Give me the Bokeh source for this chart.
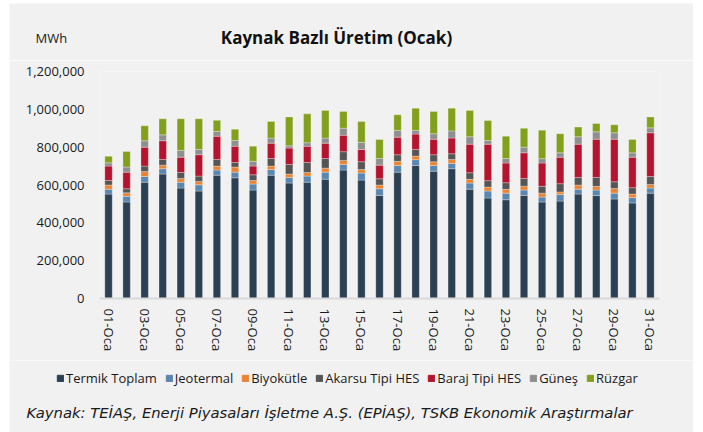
from bokeh.plotting import figure
from bokeh.layouts import column
from bokeh.models import (ColumnDataSource, Range1d, FixedTicker, NumeralTickFormatter, Label,
                          Legend, LegendItem, Plot)
from bokeh.embed import file_html
from bokeh.resources import INLINE

days = ["01-Oca", "02-Oca", "03-Oca", "04-Oca", "05-Oca", "06-Oca", "07-Oca", "08-Oca",
        "09-Oca", "10-Oca", "11-Oca", "12-Oca", "13-Oca", "14-Oca", "15-Oca", "16-Oca",
        "17-Oca", "18-Oca", "19-Oca", "20-Oca", "21-Oca", "22-Oca", "23-Oca", "24-Oca",
        "25-Oca", "26-Oca", "27-Oca", "28-Oca", "29-Oca", "30-Oca", "31-Oca"]

termik = [552000, 510000, 615000, 658000, 584000, 568000, 652000, 638000, 573000, 652000,
          610000, 615000, 631000, 679000, 626000, 545000, 668000, 703000, 673000, 686000,
          578000, 531000, 522000, 545000, 510000, 515000, 552000, 544000, 526000, 505000, 557000]
jeotermal = [26000, 30000, 30000, 28000, 31000, 33000, 27000, 30000, 32000, 30000,
             30000, 32000, 37000, 30000, 37000, 35000, 35000, 31000, 30000, 28000,
             32000, 37000, 35000, 28000, 26000, 35000, 26000, 29000, 31000, 28000, 27000]
biyokutle = [22000, 19000, 27000, 19000, 20000, 18000, 21000, 27000, 19000, 18000,
             18000, 19000, 21000, 21000, 19000, 20000, 22000, 19000, 20000, 21000,
             20000, 21000, 20000, 21000, 21000, 13000, 22000, 20000, 25000, 19000, 19000]
akarsu = [24000, 21000, 28000, 30000, 31000, 28000, 35000, 24000, 30000, 40000,
          51000, 53000, 51000, 46000, 41000, 33000, 35000, 35000, 37000, 30000,
          35000, 34000, 35000, 41000, 36000, 44000, 40000, 47000, 35000, 34000, 42000]
baraj = [76000, 88000, 100000, 99000, 81000, 113000, 123000, 86000, 46000, 81000,
         86000, 86000, 81000, 87000, 65000, 72000, 93000, 81000, 82000, 83000,
         151000, 193000, 104000, 135000, 123000, 140000, 176000, 202000, 225000, 161000, 231000]
gunes = [17000, 27000, 34000, 31000, 36000, 28000, 25000, 30000, 25000, 27000,
         12000, 18000, 27000, 37000, 37000, 35000, 35000, 19000, 29000, 38000,
         39000, 19000, 24000, 30000, 23000, 23000, 39000, 39000, 34000, 23000, 26000]
ruzgar = [35000, 82000, 79000, 85000, 167000, 162000, 59000, 60000, 80000, 88000,
          153000, 153000, 146000, 88000, 111000, 101000, 83000, 118000, 117000, 120000,
          139000, 106000, 118000, 100000, 151000, 101000, 51000, 44000, 42000, 71000, 58000]

series_names = ["Termik Toplam", "Jeotermal", "Biyokütle", "Akarsu Tipi HES",
                "Baraj Tipi HES", "Güneş", "Rüzgar"]
series_keys = ["termik", "jeotermal", "biyokutle", "akarsu", "baraj", "gunes", "ruzgar"]
colors = ["#2c4053", "#5a86b0", "#ea8434", "#555555", "#b5142e", "#8f8f8f", "#83a01c"]
y_ticks = [0, 200000, 400000, 600000, 800000, 1000000, 1200000]

title_text = "Kaynak Bazlı Üretim (Ocak)"
unit_text = "MWh"
source_text = "Kaynak: TEİAŞ, Enerji Piyasaları İşletme A.Ş. (EPİAŞ), TSKB Ekonomik Araştırmalar"

x = [i + 1 for i in range(len(days))]
source = ColumnDataSource(dict(x=x, termik=termik, jeotermal=jeotermal, biyokutle=biyokutle,
                               akarsu=akarsu, baraj=baraj, gunes=gunes, ruzgar=ruzgar))

BG = "#f1f1f1"
FONT = "Open Sans"
TXT = "#1a1a1a"
W = 684

no_align = {"frame_align": False} if "frame_align" in Plot.properties() else {}


def panel(h, y0, y1):
    f = figure(width=W, height=h, output_backend="svg", toolbar_location=None,
               x_range=Range1d(9, 693), y_range=Range1d(y0, y1),
               x_axis_type=None, y_axis_type=None, min_border=0,
               background_fill_color=BG, border_fill_color=BG, outline_line_color=None,
               **no_align)
    f.xgrid.grid_line_color = None
    f.ygrid.grid_line_color = None
    return f


# ---- top panel: title and unit (data units = page pixels, y negative downward)
top = panel(57, -60, -3)
top.add_layout(Label(x=336, y=-37, text=title_text, text_font=FONT, text_font_style="bold",
                     text_font_size="17px", text_align="center", text_baseline="middle",
                     text_color="#111111"))
top.add_layout(Label(x=35, y=-37, text=unit_text, text_font=FONT, text_font_size="13px",
                     text_align="left", text_baseline="middle", text_color=TXT))

# ---- main chart
p = figure(width=W, height=300, output_backend="svg", toolbar_location=None,
           x_range=Range1d(0.5, len(days) + 0.5), y_range=Range1d(0, y_ticks[-1]),
           min_border_left=90, min_border_right=34, min_border_top=11, min_border_bottom=62,
           background_fill_color=BG, border_fill_color=BG, outline_line_color=None)

p.vbar_stack(series_keys, x="x", width=0.41, color=colors, source=source,
             line_color="white", line_alpha=0.35, line_width=0.8)

p.xgrid.grid_line_color = None
p.ygrid.grid_line_color = None

xa = p.xaxis[0]
xa.ticker = FixedTicker(ticks=x[::2])
xa.major_label_overrides = {x[i]: days[i] for i in range(0, len(days), 2)}
xa.major_label_orientation = "vertical"
xa.axis_line_color = "#d9d9d9"
xa.axis_line_width = 2
xa.major_tick_line_color = None
xa.minor_tick_line_color = None
xa.major_label_text_font = FONT
xa.major_label_text_font_size = "13px"
xa.major_label_text_color = TXT
xa.major_label_standoff = 4

ya = p.yaxis[0]
ya.ticker = FixedTicker(ticks=y_ticks)
ya.formatter = NumeralTickFormatter(format="0,0")
ya.axis_line_color = None
ya.major_tick_line_color = None
ya.minor_tick_line_color = None
ya.major_label_text_font = FONT
ya.major_label_text_font_size = "13px"
ya.major_label_text_color = TXT
ya.major_label_standoff = 9

# ---- bottom panel: legend and source note
bottom = panel(72, -432, -360)
items = []
for name, c in zip(series_names, colors):
    r = bottom.vbar(x=[-10000], top=[-10000], bottom=[-10001], width=1, color=c)
    items.append(LegendItem(label=name, renderers=[r]))
lg = Legend(items=items, orientation="horizontal", location=(47, 45),
            background_fill_alpha=0, border_line_color=None, padding=0, margin=0,
            spacing=8, glyph_width=8, glyph_height=8, label_standoff=2,
            label_text_font=FONT, label_text_font_size="13px", label_text_color=TXT,
            label_height=16)
bottom.add_layout(lg, "center")
bottom.add_layout(Label(x=26, y=-412, text=source_text, text_font="DejaVu Sans",
                        text_font_style="italic", text_font_size="14.8px",
                        text_align="left", text_baseline="middle", text_color=TXT))

layout = column(top, p, bottom, spacing=0, margin=(3, 0, 0, 9))

open("out.html", "w").write(file_html(layout, INLINE))
